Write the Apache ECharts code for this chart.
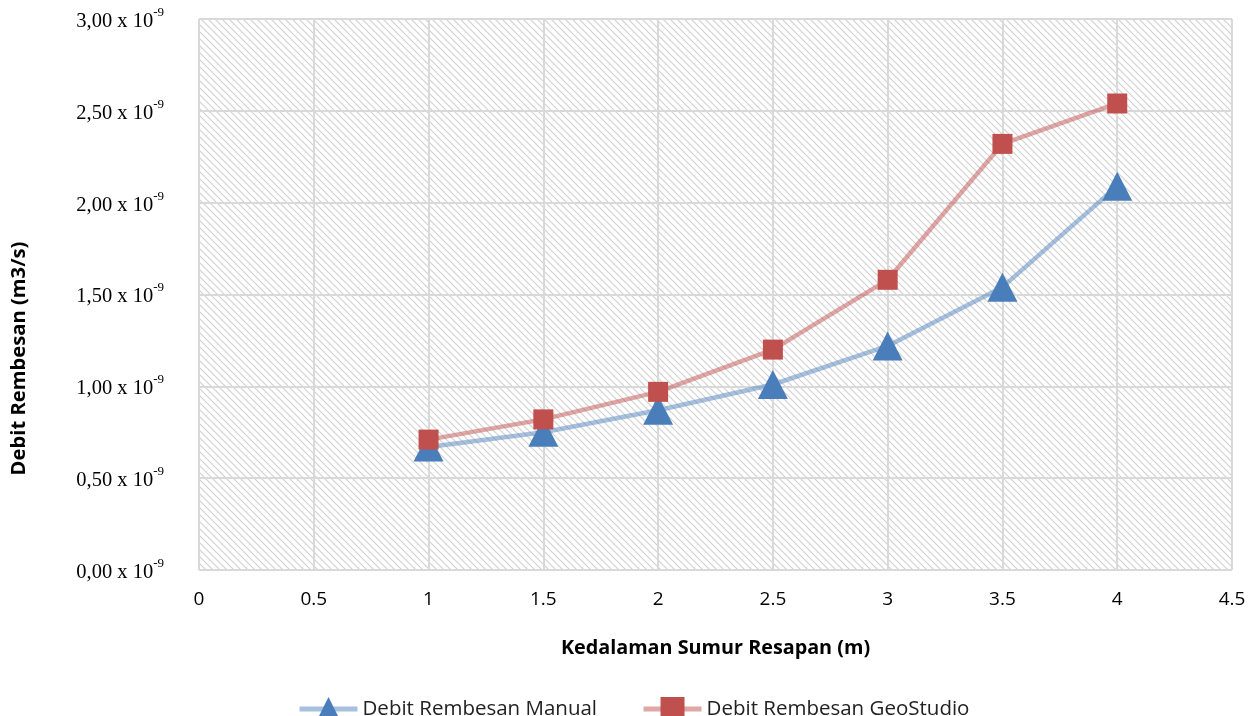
<!DOCTYPE html>
<html><head><meta charset="utf-8">
<script src="https://cdn.jsdelivr.net/npm/echarts@6/dist/echarts.min.js"></script>
<style>html,body{margin:0;padding:0;background:#fff}#c{width:1256px;height:716px}</style>
</head><body><div id="c"></div>
<script>
// values in units of 10^-9 m3/s
const depths = [1, 1.5, 2, 2.5, 3, 3.5, 4];
const manual = [0.67, 0.75, 0.87, 1.01, 1.22, 1.54, 2.09];
const geostudio = [0.71, 0.82, 0.97, 1.20, 1.58, 2.32, 2.54];
const seriesNames = ['Debit Rembesan Manual', 'Debit Rembesan GeoStudio'];

function hatch() {
  const s = 7;
  const cv = document.createElement('canvas');
  cv.width = s; cv.height = s;
  const ctx = cv.getContext('2d');
  ctx.fillStyle = '#ffffff';
  ctx.fillRect(0, 0, s, s);
  ctx.strokeStyle = '#d2d2d2';
  ctx.lineWidth = 1.2;
  ctx.beginPath();
  ctx.moveTo(-1, -1); ctx.lineTo(s + 1, s + 1);
  ctx.moveTo(-1, s - 1); ctx.lineTo(1, s + 1);
  ctx.moveTo(s - 1, -1); ctx.lineTo(s + 1, 1);
  ctx.stroke();
  return { image: cv, repeat: 'repeat' };
}

const chart = echarts.init(document.getElementById('c'), null, { renderer: 'canvas' });
chart.setOption({
  animation: false,
  grid: { left: 199, right: 24, top: 19, bottom: 146, show: true, backgroundColor: hatch(), borderWidth: 0, outerBoundsMode: 'none', containLabel: false },
  legend: {
    top: 692, left: 292, itemWidth: 58, itemHeight: 30, itemGap: 44,
    lineStyle: { width: 5 },
    textStyle: { fontFamily: 'Open Sans', fontSize: 20.5, color: '#222' },
    data: seriesNames
  },
  xAxis: {
    type: 'value', min: 0, max: 4.5, interval: 0.5,
    name: 'Kedalaman Sumur Resapan (m)', nameLocation: 'middle', nameGap: 68,
    nameTextStyle: { fontFamily: 'Open Sans', fontWeight: 'bold', fontSize: 19.8, color: '#000' },
    axisLine: { show: false }, axisTick: { show: false },
    axisLabel: { margin: 20, fontFamily: 'Open Sans', fontSize: 19, color: '#000' },
    splitLine: { show: true, lineStyle: { color: '#d9d9d9', width: 2 } }
  },
  yAxis: {
    type: 'value', min: 0, max: 3, interval: 0.5,
    name: 'Debit Rembesan (m3/s)', nameLocation: 'middle', nameGap: 170,
    nameTextStyle: { fontFamily: 'Open Sans', fontWeight: 'bold', fontSize: 20.2, color: '#000', padding: [0, 128, 0, 0] },
    axisLine: { show: false }, axisTick: { show: false },
    axisLabel: {
      margin: 35,
      formatter: v => '{m|' + v.toFixed(2).replace('.', ',') + ' x 10}{s|-9}',
      rich: {
        m: { fontFamily: 'Liberation Serif', fontSize: 20.5, color: '#000', lineHeight: 26, verticalAlign: 'bottom' },
        s: { fontFamily: 'Liberation Serif', fontSize: 13, color: '#000', verticalAlign: 'top' }
      }
    },
    splitLine: { show: true, lineStyle: { color: '#d9d9d9', width: 2 } }
  },
  series: [
    {
      name: seriesNames[0], type: 'line',
      data: depths.map((d, i) => [d, manual[i]]),
      symbol: 'triangle', symbolSize: [30, 29],
      lineStyle: { color: 'rgba(79,129,189,0.5)', width: 4.5 },
      itemStyle: { color: '#4a7ebb' }
    },
    {
      name: seriesNames[1], type: 'line',
      data: depths.map((d, i) => [d, geostudio[i]]),
      symbol: 'rect', symbolSize: 20,
      lineStyle: { color: 'rgba(192,80,77,0.5)', width: 4.5 },
      itemStyle: { color: '#c0504d' }
    }
  ]
});
</script></body></html>
